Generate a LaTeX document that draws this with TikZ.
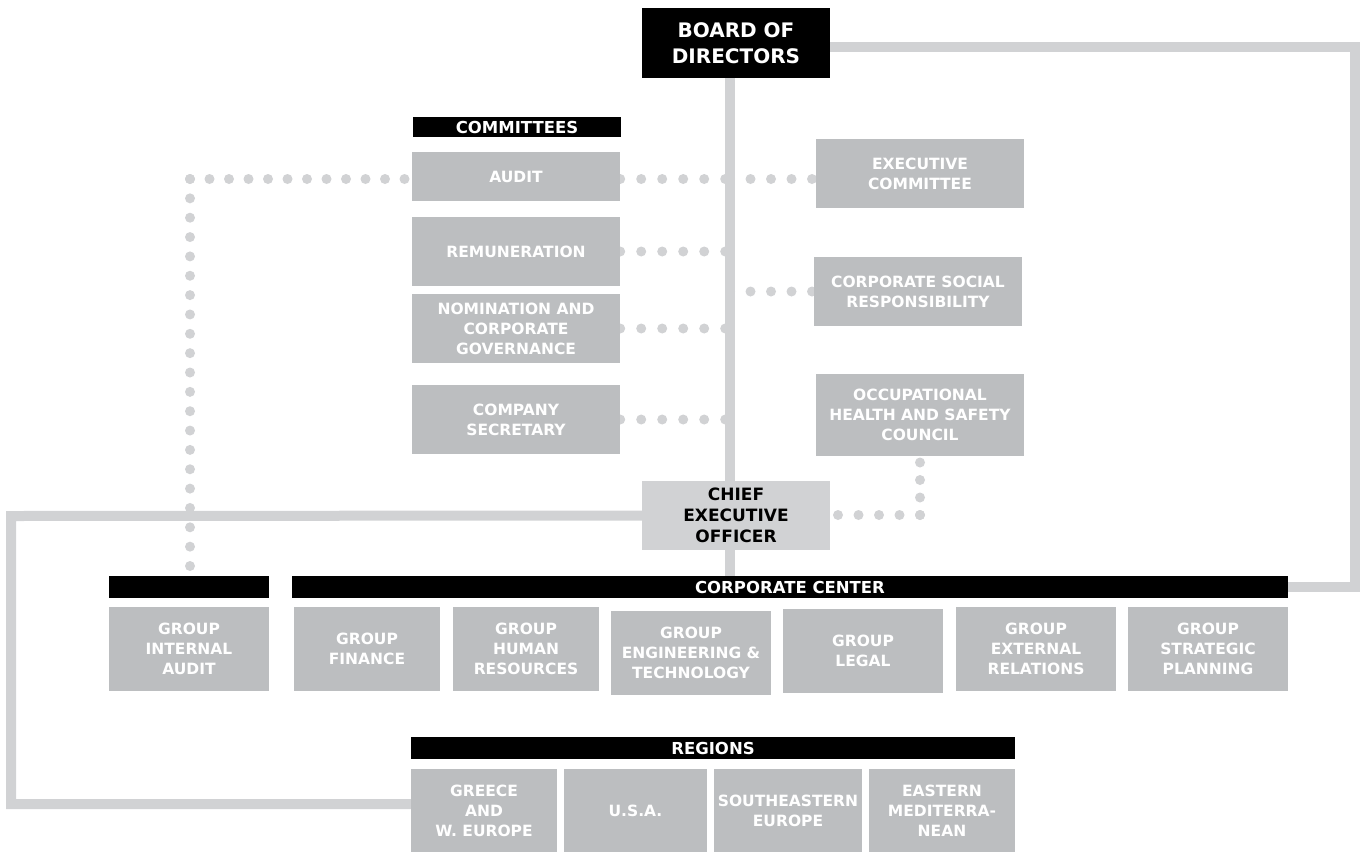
\documentclass[tikz,border=0pt]{standalone}
\usepackage{fontspec}
\setmainfont{DejaVu Sans}
\usetikzlibrary{backgrounds}
\definecolor{boxgray}{HTML}{BCBEC0}
\definecolor{linegray}{HTML}{D1D2D4}
\newcommand\unitfont{\bfseries\fontsize{15.5}{20}\selectfont}
\newcommand\headfont{\bfseries\fontsize{16.5}{20}\selectfont}
\tikzset{
  unit/.style={fill=boxgray, text=white, font=\unitfont, align=center, inner sep=0pt},
  header/.style={fill=black, text=white, font=\headfont, inner sep=0pt},
  dotrow/.style={draw=linegray, line width=10pt, line cap=round, dash pattern=on 0pt off #1},
  dotrow/.default=20.5pt,
  link/.style={draw=linegray, line width=10pt, line join=miter}
}
\begin{document}
\begin{tikzpicture}[x=1pt,y=-1pt]
  \useasboundingbox (0,0) rectangle (1362,852);
  % board and chief executive
  \node[fill=black, text=white, align=center, inner sep=0pt, minimum width=188pt, minimum height=70pt,
    font=\bfseries\fontsize{20}{26}\selectfont] (bod) at (736,43) {BOARD OF\\DIRECTORS};
  \node[fill=linegray, align=center, inner sep=0pt, minimum width=188pt, minimum height=69pt,
    font=\bfseries\fontsize{17}{21}\selectfont] (ceo) at (736,515.5) {CHIEF\\EXECUTIVE\\OFFICER};
  % committees
  \node[header, minimum width=208pt, minimum height=20pt] (comhead) at (517,127) {COMMITTEES};
  \foreach \name/\y/\h/\txt in {audit/176.5/49/{AUDIT}, remun/251.5/69/{REMUNERATION},
    nomin/328.5/69/{NOMINATION AND\\CORPORATE\\GOVERNANCE}, secr/419.5/69/{COMPANY\\SECRETARY}}
    \node[unit, minimum width=208pt, minimum height=\h pt] (\name) at (516,\y) {\txt};
  \node[unit, minimum width=208pt, minimum height=69pt] (execcom) at (920,173.5) {EXECUTIVE\\COMMITTEE};
  \node[unit, minimum width=208pt, minimum height=69pt] (csr) at (918,291.5) {CORPORATE SOCIAL\\RESPONSIBILITY};
  \node[unit, minimum width=208pt, minimum height=82pt] (ohs) at (920,415) {OCCUPATIONAL\\HEALTH AND SAFETY\\COUNCIL};
  % corporate center
  \node[header, minimum width=160pt, minimum height=22pt] (iahead) at (189,587) {};
  \node[header, minimum width=996pt, minimum height=22pt] (cc) at (790,587) {CORPORATE CENTER};
  \foreach \name/\x/\y/\w/\txt in {
    ia/189/649/160/{GROUP\\INTERNAL\\AUDIT}, fin/367/649/146/{GROUP\\FINANCE},
    hr/526/649/146/{GROUP\\HUMAN\\RESOURCES}, eng/691/652.5/160/{GROUP\\ENGINEERING \&\\TECHNOLOGY},
    legal/863/651/160/{GROUP\\LEGAL}, ext/1036/649/160/{GROUP\\EXTERNAL\\RELATIONS},
    strat/1208/649/160/{GROUP\\STRATEGIC\\PLANNING}}
    \node[unit, minimum width=\w pt, minimum height=84pt] (\name) at (\x,\y) {\txt};
  % regions
  \node[header, minimum width=604pt, minimum height=22pt] (reghead) at (713,748) {REGIONS};
  \foreach \name/\x/\w/\txt in {
    greece/484/146/{GREECE\\AND\\W. EUROPE}, usa/635.5/143/{U.S.A.},
    see/788/148/{SOUTHEASTERN\\EUROPE}, emed/942/146/{EASTERN\\MEDITERRA-\\NEAN}}
    \node[unit, minimum width=\w pt, minimum height=83pt] (\name) at (\x,810.5) {\txt};
  % connectors
  \coordinate (trunk) at (730,0);
  \coordinate (iacorner) at (190,179);
  \coordinate (iabot) at (190,566);
  \coordinate (ohscorner) at (920,515);
  \coordinate (rtop) at (1355,47);
  \coordinate (ltop) at (11,516);
  \coordinate (lbot) at (11,804);
  \begin{scope}[on background layer]
    \draw[dotrow=19.5pt] (iacorner) -- (audit.west |- iacorner);
    \draw[dotrow=19.35pt] (iabot) -- (iacorner);
    \draw[dotrow=21pt] (audit.east |- iacorner) -- (trunk |- iacorner);
    \foreach \name in {remun,nomin,secr}
      \draw[dotrow=21pt] (\name.east) -- (\name.east -| trunk);
    \draw[dotrow] (trunk |- iacorner) -- (execcom.west |- iacorner);
    \draw[dotrow] (trunk |- csr.west) -- (csr.west);
    \draw[dotrow=17.5pt] (ohscorner) -- (ohs.south);
    \draw[dotrow] (ohscorner) -- (ceo.east |- ohscorner);
    \draw[link] (bod.south -| trunk) -- (cc.north -| trunk);
    \draw[link] (bod.east |- rtop) -- (rtop) |- (cc.east);
    \draw[link] (ceo.west) -- (ltop) -- (lbot) -- (lbot -| greece.west);
  \end{scope}
\end{tikzpicture}
\end{document}
